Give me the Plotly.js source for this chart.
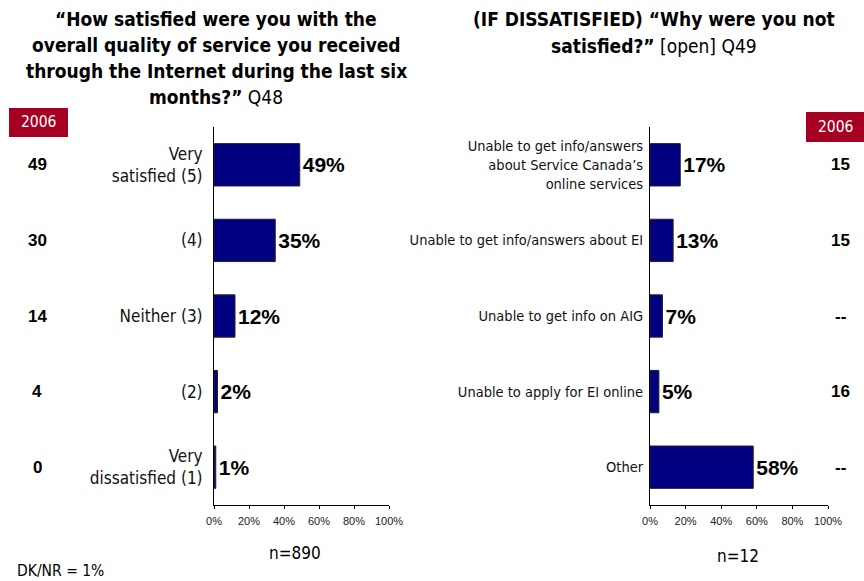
<!DOCTYPE html>
<html><head><meta charset="utf-8">
<script src="https://cdn.plot.ly/plotly-3.0.1.min.js"></script>
<style>html,body{margin:0;padding:0;background:#fff}#c{width:864px;height:581px}</style>
</head><body><div id="c"></div>
<script>
var leftCats = ["Very<br>satisfied (5)", "(4)", "Neither (3)", "(2)", "Very<br>dissatisfied (1)"];
var leftVals = [49, 35, 12, 2, 1];
var left2006 = ["49", "30", "14", "4", "0"];
var rightCats = ["Unable to get info/answers<br>about Service Canada\u2019s<br>online services", "Unable to get info/answers about EI", "Unable to get info on AIG", "Unable to apply for EI online", "Other"];
var rightVals = [17, 13, 7, 5, 58];
var right2006 = ["15", "15", "--", "16", "--"];
var xTickVals = [0, 20, 40, 60, 80, 100];
var xTickText = ["0%", "20%", "40%", "60%", "80%", "100%"];
var leftTitleLines = ["<b>\u201cHow satisfied were you with the</b>", "<b>overall quality of service you received</b>", "<b>through the Internet during the last six</b>", "<b>months?\u201d</b> Q48"];
var rightTitleLines = ["<b>(IF DISSATISFIED) \u201cWhy were you not</b>", "<b>satisfied?\u201d</b> [open] Q49"];

var NARROW = "'DejaVu Sans Condensed', 'Liberation Sans Narrow', sans-serif";
var SANS = "'Liberation Sans', Arial, sans-serif";
var NAVY = "#000080";

function barTrace(cats, vals, xa, ya) {
  return {
    type: "bar", orientation: "h", y: cats, x: vals, xaxis: xa, yaxis: ya,
    marker: {color: NAVY, line: {color: "#222", width: 1}},
    text: vals.map(function(v){return v + "%";}), textposition: "outside",
    textfont: {family: SANS, size: 21, color: "#000", weight: "bold"},
    cliponaxis: false, hoverinfo: "none", width: 0.56
  };
}
var data = [barTrace(leftCats, leftVals, "x", "y"), barTrace(rightCats, rightVals, "x2", "y2")];

function xaxis(dom, anchor) {
  return {domain: dom, anchor: anchor, range: [0, 100], tickvals: xTickVals, ticktext: xTickText,
    showgrid: false, zeroline: false, showline: true, linecolor: "#000", linewidth: 1,
    ticks: "outside", ticklen: 3, tickcolor: "#000", ticklabelstandoff: 3,
    tickfont: {family: SANS, size: 11, color: "#222"}, fixedrange: true};
}
function yaxis(dom, anchor, cats, standoff, size) {
  return {domain: dom, anchor: anchor, type: "category", categoryorder: "array", categoryarray: cats,
    autorange: "reversed", showgrid: false, zeroline: false, showline: true, linecolor: "#000", linewidth: 1,
    ticks: "", ticklabelstandoff: standoff, tickfont: {family: NARROW, size: size, color: "#111"}, fixedrange: true};
}

var ydom = [1 - 505/581, 1 - 127/581];
var annotations = [];
leftCats.forEach(function(c, i){
  annotations.push({xref: "paper", yref: "y", x: 37/864, y: c, text: "<b>" + left2006[i] + "</b>", showarrow: false,
    xanchor: "center", font: {family: SANS, size: 17, color: "#000"}});
});
rightCats.forEach(function(c, i){
  annotations.push({xref: "paper", yref: "y2", x: 840/864, y: c, text: "<b>" + right2006[i] + "</b>", showarrow: false,
    xanchor: "center", font: {family: SANS, size: 17, color: "#000"}});
});
leftTitleLines.forEach(function(t, i){
  annotations.push({xref: "paper", yref: "paper", x: 216/864, y: 1 - (18.5 + 26.2*i)/581, yanchor: "middle", xanchor: "center",
    showarrow: false, text: t, font: {family: NARROW, size: 19, color: "#000"}});
});
rightTitleLines.forEach(function(t, i){
  annotations.push({xref: "paper", yref: "paper", x: 654/864, y: 1 - (18.5 + 27.5*i)/581, yanchor: "middle", xanchor: "center",
    showarrow: false, text: t, font: {family: NARROW, size: 19, color: "#000"}});
});
annotations.push(
  {xref: "paper", yref: "paper", x: 38.5/864, y: 1 - 122.5/581, xanchor: "center", yanchor: "middle", showarrow: false,
   text: "2006", font: {family: NARROW, size: 15.5, color: "#fff"}},
  {xref: "paper", yref: "paper", x: 835/864, y: 1 - 127/581, xanchor: "center", yanchor: "middle", showarrow: false,
   text: "2006", font: {family: NARROW, size: 15.5, color: "#fff"}},
  {xref: "paper", yref: "paper", x: 295/864, y: 1 - 553/581, xanchor: "center", yanchor: "middle", showarrow: false,
   text: "n=890", font: {family: NARROW, size: 17, color: "#000"}},
  {xref: "paper", yref: "paper", x: 738/864, y: 1 - 556/581, xanchor: "center", yanchor: "middle", showarrow: false,
   text: "n=12", font: {family: NARROW, size: 17, color: "#000"}},
  {xref: "paper", yref: "paper", x: 15/864, y: 1 - 571/581, xanchor: "left", yanchor: "middle", showarrow: false,
   text: "DK/NR = 1%", font: {family: NARROW, size: 15.5, color: "#000"}}
);

var layout = {
  width: 864, height: 581, margin: {l: 0, r: 0, t: 0, b: 0}, showlegend: false,
  paper_bgcolor: "#fff", plot_bgcolor: "rgba(0,0,0,0)",
  xaxis: xaxis([214/864, 389/864], "y"), yaxis: yaxis(ydom, "x", leftCats, 7, 17),
  xaxis2: xaxis([650/864, 828/864], "y2"), yaxis2: yaxis(ydom, "x2", rightCats, 3, 14.5),
  annotations: annotations,
  shapes: [
    {type: "rect", xref: "paper", yref: "paper", x0: 9/864, x1: 68/864, y0: 1 - 137/581, y1: 1 - 108/581, fillcolor: "#A50021", line: {width: 0}, layer: "below"},
    {type: "rect", xref: "paper", yref: "paper", x0: 806/864, x1: 864/864, y0: 1 - 142/581, y1: 1 - 112/581, fillcolor: "#A50021", line: {width: 0}, layer: "below"}
  ]
};
Plotly.newPlot("c", data, layout, {staticPlot: true, displayModeBar: false});
</script></body></html>
